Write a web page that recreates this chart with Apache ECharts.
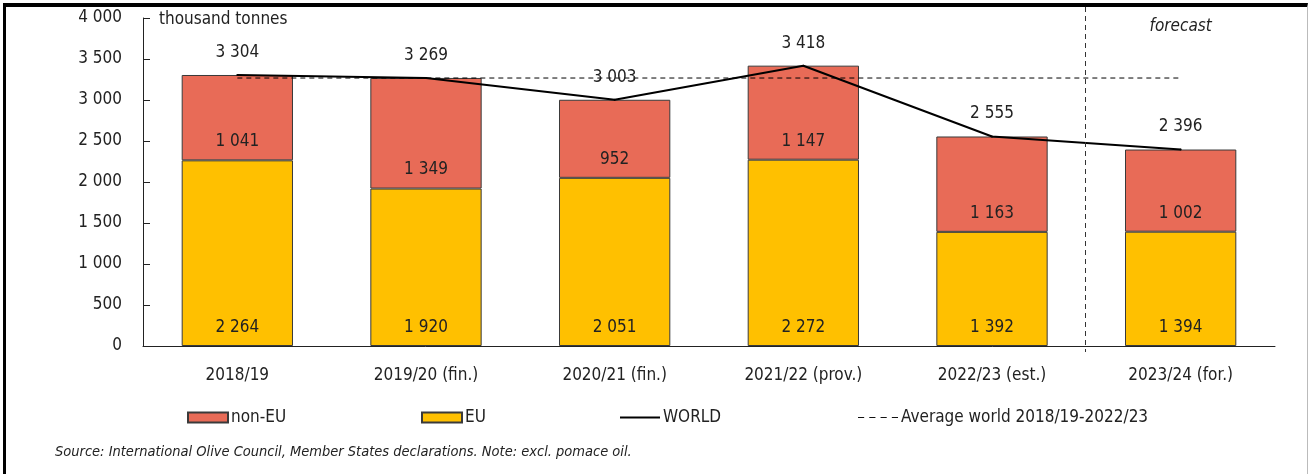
<!DOCTYPE html>
<html>
<head>
<meta charset="utf-8">
<script src="https://cdn.jsdelivr.net/npm/echarts@6/dist/echarts.min.js"></script>
<style>
html,body{margin:0;padding:0;background:#fff;}
#chart{position:absolute;left:0;top:0;width:1312px;height:474px;}
#frame{position:absolute;left:3px;top:3px;width:1305px;height:480px;border-top:4px solid #000;border-left:3px solid #000;border-right:1px solid #bbb;box-sizing:border-box;pointer-events:none;}
</style>
</head>
<body>
<div id="chart"></div>
<div id="frame"></div>
<script>
const categories = ['2018/19', '2019/20 (fin.)', '2020/21 (fin.)', '2021/22 (prov.)', '2022/23 (est.)', '2023/24 (for.)'];
const euValues = [2264, 1920, 2051, 2272, 1392, 1394];
const nonEuValues = [1041, 1349, 952, 1147, 1163, 1002];
const worldValues = [3304, 3269, 3003, 3418, 2555, 2396];
const averageWorld = 3268;
const averageValues = categories.map(() => averageWorld);
const yTicks = [0, 500, 1000, 1500, 2000, 2500, 3000, 3500, 4000];

const FONT = '"DejaVu Sans Condensed", "DejaVu Sans", sans-serif';
const fmt = v => String(Math.round(v)).replace(/\B(?=(\d{3})+(?!\d))/g, ' ');

const chart = echarts.init(document.getElementById('chart'), null, {renderer: 'canvas'});
const textBase = {fontFamily: FONT, fontSize: 17, color: '#222'};

function legendAt(left, name, icon, h) {
  return {
    left: left, top: 404, itemWidth: 40, itemHeight: h, itemGap: 0,
    data: [{name: name, icon: icon}], selectedMode: false,
    textStyle: Object.assign({}, textBase, {padding: [0, 0, 0, -2]})
  };
}
const dashIcon = 'path://M0,0h6v1h-6z M11,0h6v1h-6z M22,0h6v1h-6z M33,0h6v1h-6z';

const option = {
  animation: false,
  textStyle: textBase,
  grid: {left: 143, right: 37, top: 18, bottom: 128, containLabel: false},
  legend: [
    legendAt(182, 'non-EU', 'rect', 10),
    legendAt(416, 'EU', 'rect', 10),
    legendAt(615, 'WORLD', 'rect', 2),
    legendAt(853, 'Average world 2018/19-2022/23', dashIcon, 1.2)
  ],
  xAxis: {
    type: 'category', data: categories, boundaryGap: true,
    axisLine: {lineStyle: {color: '#222', width: 1}},
    axisTick: {inside: true, length: 6, lineStyle: {color: '#222'}},
    axisLabel: Object.assign({}, textBase, {margin: 21})
  },
  yAxis: {
    type: 'value', min: 0, max: 4000, interval: 500,
    axisLine: {show: true, lineStyle: {color: '#222', width: 1}},
    axisTick: {show: true, inside: true, length: 7, lineStyle: {color: '#222'}},
    splitLine: {show: false},
    axisLabel: Object.assign({}, textBase, {margin: 21, formatter: v => yTicks.includes(v) ? fmt(v) : ''})
  },
  series: [
    {
      name: 'EU', type: 'bar', stack: 'prod', data: euValues, barCategoryGap: '41%',
      itemStyle: {color: '#FFC000', borderColor: '#3a3a3a', borderWidth: 1},
      label: {show: true, position: 'insideBottom', distance: 10, formatter: p => fmt(p.value), fontFamily: FONT, fontSize: 17, color: '#222'}
    },
    {
      name: 'non-EU', type: 'bar', stack: 'prod', data: nonEuValues,
      itemStyle: {color: '#E86B57', borderColor: '#3a3a3a', borderWidth: 1},
      label: {show: true, position: 'insideBottom', distance: 10, formatter: p => fmt(p.value), fontFamily: FONT, fontSize: 17, color: '#222'}
    },
    {
      name: 'Average world 2018/19-2022/23', type: 'line', data: averageValues, symbol: 'none', z: 4,
      lineStyle: {color: '#000', width: 1, type: [5, 4]}, itemStyle: {color: '#111'}
    },
    {
      name: 'WORLD', type: 'line', data: worldValues, symbol: 'circle', symbolSize: 2, showSymbol: true, z: 5,
      lineStyle: {color: '#000', width: 2}, itemStyle: {color: '#000'},
      label: {show: true, position: 'top', distance: 13, formatter: p => fmt(p.value), fontFamily: FONT, fontSize: 17, color: '#222'}
    }
  ]
};
chart.setOption(option);

// forecast divider between the last two categories, located through the axis scale
const x4 = chart.convertToPixel({xAxisIndex: 0}, categories[4]);
const x5 = chart.convertToPixel({xAxisIndex: 0}, categories[5]);
const y0 = chart.convertToPixel({yAxisIndex: 0}, 0);
const yTop = chart.convertToPixel({yAxisIndex: 0}, 4000);
const xDiv = Math.round((x4 + x5) / 2) - 0.5;
chart.setOption({
  graphic: [
    {type: 'line', shape: {x1: xDiv, y1: 7, x2: xDiv, y2: y0 + 6}, style: {stroke: '#333', lineWidth: 1, lineDash: [5, 4]}, z: 10},
    {type: 'text', x: x5, y: yTop + 9, style: {text: 'forecast', fontFamily: FONT, fontSize: 17, fontStyle: 'italic', fill: '#222', align: 'center', verticalAlign: 'middle'}},
    {type: 'text', x: 159, y: yTop + 2, style: {text: 'thousand tonnes', fontFamily: FONT, fontSize: 17, fill: '#222', align: 'left', verticalAlign: 'middle'}},
    {type: 'text', x: 55, y: 452, style: {text: 'Source: International Olive Council, Member States declarations. Note: excl. pomace oil.', fontFamily: FONT, fontSize: 14.5, fontStyle: 'italic', fill: '#222', align: 'left', verticalAlign: 'middle'}}
  ]
});
</script>
</body>
</html>
